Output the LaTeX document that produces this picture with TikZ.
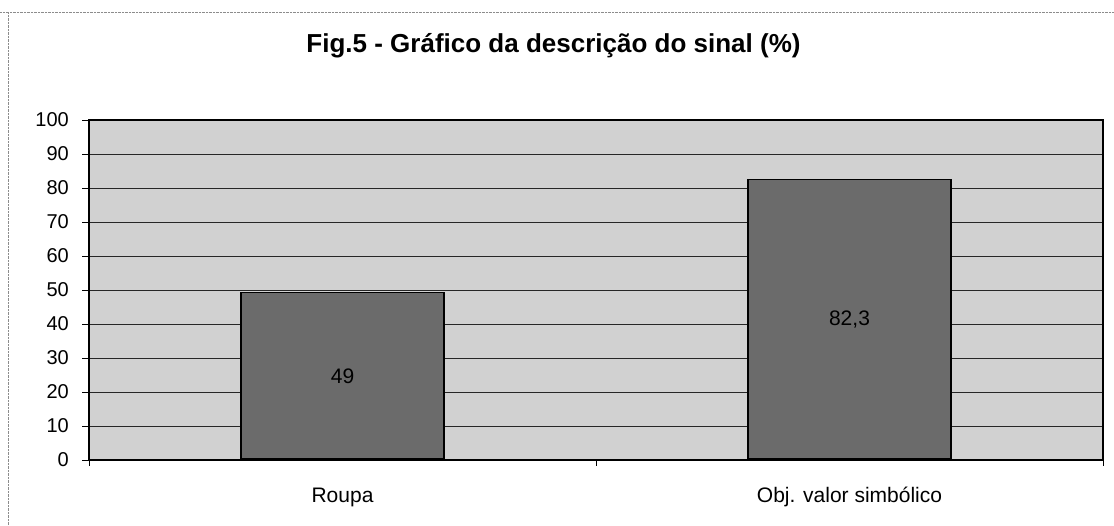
\documentclass[tikz,border=0pt]{standalone}
\usepackage{fontspec}
\setmainfont{Liberation Sans}
\usetikzlibrary{positioning}

\tikzset{
  barbox/.style={draw=black, line width=1.6pt, fill=black!58, inner sep=0pt, anchor=south, minimum width=203pt, font=\fontsize{21}{24}\selectfont},
  gridline/.style={black!85, line width=0.8pt},
  ticklabel/.style={anchor=east, inner sep=0pt, font=\fontsize{20}{24}\selectfont},
  catlabel/.style={anchor=base, inner sep=0pt, font=\fontsize{21}{24}\selectfont}
}

\begin{document}
\begin{tikzpicture}[x=1pt, y=-1pt]
\useasboundingbox (0,0) rectangle (1114,526);
\draw [black!45, densely dotted] (0,12) -- (1114,12);
\draw [black!45, densely dotted] (8,12) -- (8,526);
\node [anchor=base, font=\bfseries\fontsize{26}{30}\selectfont] (title) at (553.5,53) {Fig.5 - Gráfico da descrição do sinal (\%)};
\fill [black!18] (89,120) rectangle (1103,460);
\foreach \v in {10,20,...,90} \draw [gridline] (89,{460-3.4*\v}) -- (1103,{460-3.4*\v});
\draw [line width=1.2pt] (89,460) -- (89,120) -- (1103,120) -- (1103,460);
\foreach \v in {0,10,...,100} \draw (82,{460-3.4*\v}) -- (89,{460-3.4*\v}) node [ticklabel] (y\v) at (69,{460-3.4*\v}) {\v};
\node [barbox, minimum height={3.4*49pt}] (roupa) at (342.5,460) {49};
\node [barbox, minimum height={3.4*82.3pt}] (obj) at (849.5,460) {82,3};
\draw [line width=1.6pt] (89,460) -- (1103,460);
\foreach \x in {89,596,1103} \draw [shift={(\x,460)}] (0,0) -- (0,6);
\node [catlabel] (croupa) at (342.5,502) {Roupa};
\node [catlabel] (cobj) at (849.5,502) {Obj. valor simbólico};
\end{tikzpicture}
\end{document}
